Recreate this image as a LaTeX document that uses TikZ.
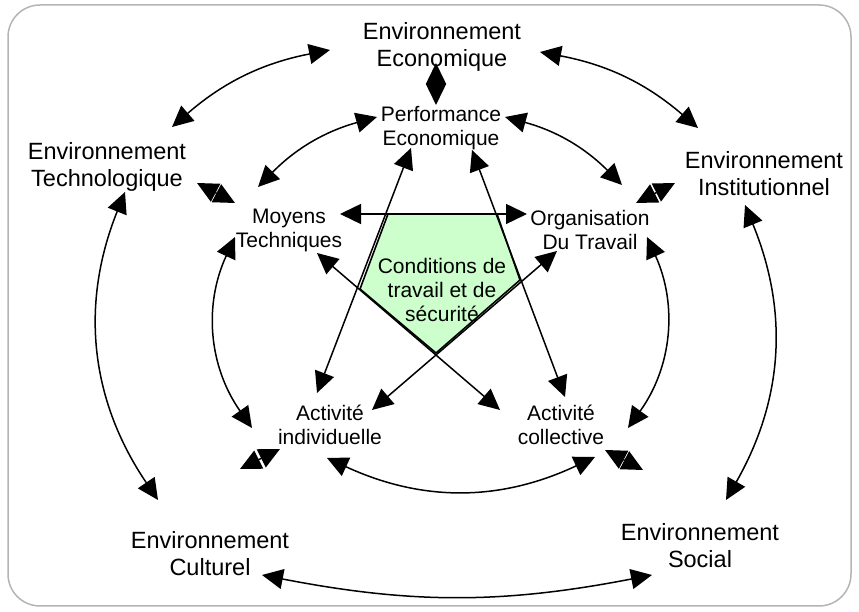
\documentclass[tikz,border=0pt]{standalone}
\usepackage{fontspec}
\setmainfont{Liberation Sans}
\usetikzlibrary{arrows.meta, calc}
\definecolor{condfill}{HTML}{CCFFCC}
\definecolor{framegray}{HTML}{B4B4B4}
\tikzset{envtext/.style={font=\fontsize{23.5}{27}\selectfont, align=center, inner sep=0pt}}
\tikzset{areatext/.style={font=\fontsize{21}{24}\selectfont, align=center, inner sep=0pt}}
\tikzset{link/.style={{Triangle[length=21pt, width=20pt]}-{Triangle[length=21pt, width=20pt]}, line width=1.5pt}}

\begin{document}
\begin{tikzpicture}[x=1pt, y=1pt]
            \useasboundingbox (0,0) rectangle (859,612);
            \draw[framegray, line width=1.5pt, rounded corners=32pt] (8,6) rectangle (851,607);
            \filldraw[fill=condfill, line width=1.6pt] (388,398) -- (497,398) -- (520,332) -- (436,259) -- (360,323) -- cycle;
            \node[envtext] (eco) at (442,565) {Environnement\\Economique};
            \node[envtext] (tech) at (107,445) {Environnement\\Technologique};
            \node[envtext] (inst) at (764,438) {Environnement\\Institutionnel};
            \node[envtext] (cult) at (210,58) {Environnement\\Culturel};
            \node[envtext] (soc) at (700,66) {Environnement\\Social};
            \node[areatext] (perf) at (441,484) {Performance\\Economique};
            \node[areatext] (moy) at (289,382) {Moyens\\Techniques};
            \node[areatext] (org) at (590,382) {Organisation\\Du Travail};
            \node[areatext] (cond) at (442,322) {Conditions de\\travail et de\\sécurité};
            \node[areatext] (actind) at (330,187) {Activité\\individuelle};
            \node[areatext] (actcoll) at (561,187) {Activité\\collective};
            % environnements
            \draw[link] ($(eco)+(-112,-3)$) to[bend right=15] ($(tech)+(65,40)$);
            \draw[link] ($(eco)+(98,-5)$) to[bend left=15] ($(inst)+(-66,46)$);
            \draw[link] ($(tech)+(18,-25)$) to[bend right=28] ($(cult)+(-52,54)$);
            \draw[link] ($(inst)+(-19,-31)$) to[bend left=26] ($(soc)+(26,46)$);
            \draw[link] ($(cult)+(52,-21)$) to[bend right=11] ($(soc)+(-48,-29)$);
            \draw[link] ($(eco)+(-6,-16)$) -- ($(perf)+(-5,23)$);
            \draw[link] ($(tech)+(90,-16)$) -- ($(moy)+(-54,27)$);
            \draw[link] ($(inst)+(-89,-9)$) -- ($(org)+(46,27)$);
            \draw[link] ($(cult)+(30,85)$) -- ($(actind)+(-50,-24)$);
            \draw[link] ($(soc)+(-57,76)$) -- ($(actcoll)+(44,-25)$);
            % pentagone interieur
            \draw[link] ($(perf)+(-64,11)$) to[bend right=15] ($(moy)+(-31,43)$);
            \draw[link] ($(perf)+(64,11)$) to[bend left=15] ($(org)+(32,45)$);
            \draw[link] ($(moy)+(-54,-7)$) to[bend right=30] ($(actind)+(-78,-3)$);
            \draw[link] ($(org)+(57,-7)$) to[bend left=30] ($(actcoll)+(67,-3)$);
            \draw[link] ($(actind)+(-3,-33)$) to[bend right=25] ($(actcoll)+(34,-32)$);
            % etoile
            \draw[link] ($(moy)+(51,16)$) -- ($(org)+(-63,16)$);
            \draw[link] ($(actind)+(-13,32)$) -- ($(perf)+(-30,-20)$);
            \draw[link] ($(actcoll)+(4,28)$) -- ($(perf)+(31,-22)$);
            \draw[link] ($(moy)+(28,-23)$) -- ($(actcoll)+(-61,15)$);
            \draw[link] ($(actind)+(42,15)$) -- ($(org)+(-33,-21)$);
        \end{tikzpicture}
\end{document}
